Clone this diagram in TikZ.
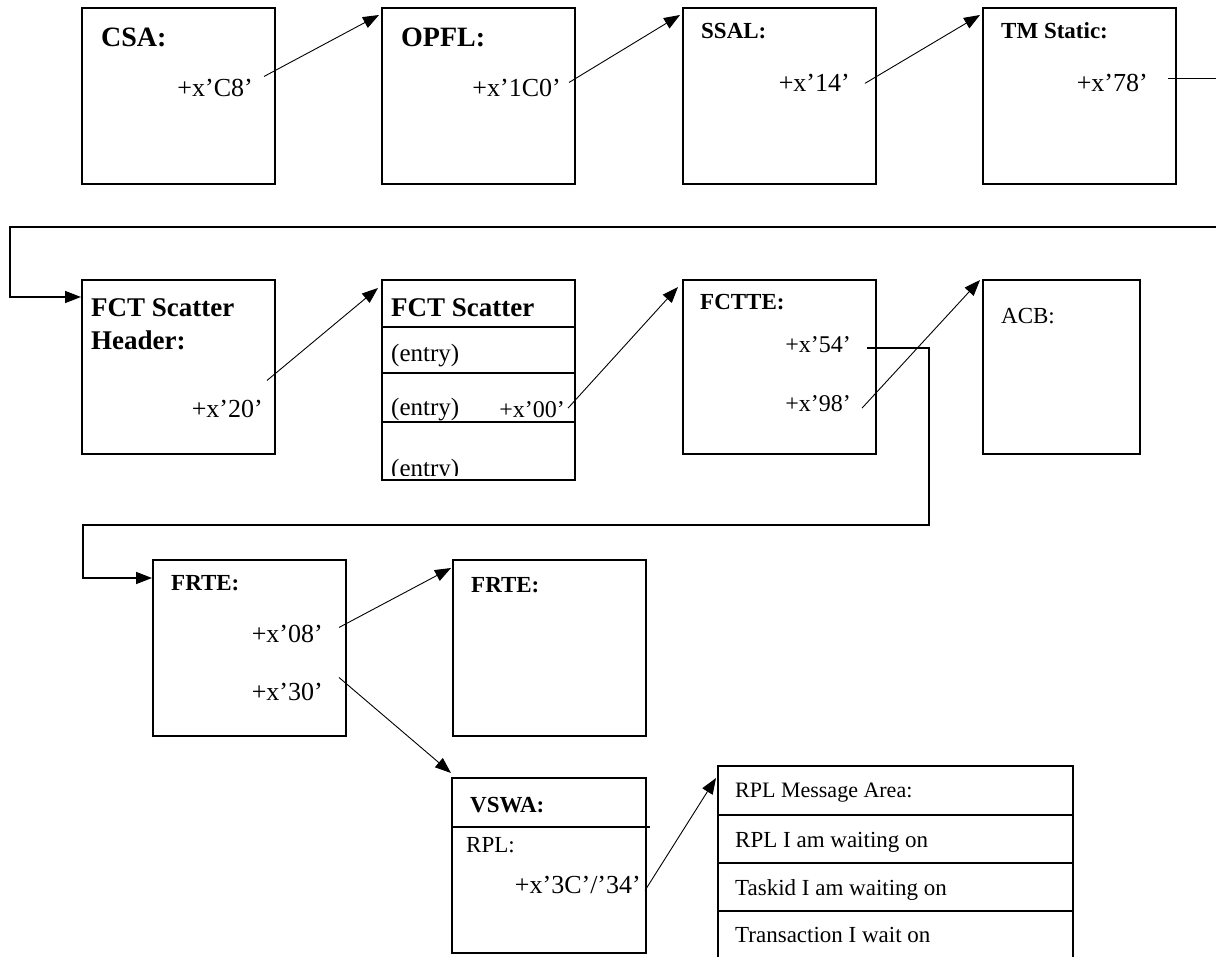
\documentclass[tikz,border=0pt]{standalone}
\usepackage{fontspec}
\setmainfont{Liberation Serif}
\usetikzlibrary{arrows.meta}

\tikzset{
  membox/.style={draw, line width=1.6pt, inner sep=0pt, anchor=north west,
    minimum width=193pt, minimum height=176pt},
  divline/.style={line width=1.6pt},
  lbl/.style={inner sep=0pt, anchor=base west, font=\fontsize{23}{27}\selectfont},
  hdr/.style={lbl, font=\fontsize{23}{27}\selectfont\bfseries},
  bighdr/.style={lbl, font=\fontsize{28}{32}\selectfont\bfseries},
  ofs/.style={inner sep=0pt, anchor=base east, font=\fontsize{26}{30}\selectfont},
  ptr/.style={->, line width=0.9pt},
  link/.style={->, line width=1.6pt},
}

\begin{document}
\begin{tikzpicture}[x=1pt,y=-1pt,>={Triangle[length=16pt,width=12pt]}]
\useasboundingbox (0,0) rectangle (1216,957);

% first row
\node[membox] (csa) at (81,7) {};
\node[membox] (opfl) at (381,7) {};
\node[membox] (ssal) at (682,7) {};
\node[membox] (tmstat) at (982,7) {};
\node[bighdr] (csat) at (101,47) {CSA:};
\node[bighdr] (opflt) at (401,47) {OPFL:};
\node[hdr] (ssalt) at (701,39) {SSAL:};
\node[hdr] (tmstatt) at (1001,39) {TM Static:};
\node[ofs] (csaoff) at (253,97) {+x’C8’};
\node[ofs] (opfloff) at (561,97) {+x’1C0’};
\node[ofs] (ssaloff) at (850,92) {+x’14’};
\node[ofs] (tmoff) at (1148,92) {+x’78’};

% second row
\node[membox, minimum height=174pt] (fcthdr) at (81,279) {};
\node[membox, minimum height=200pt] (scat) at (381,279) {};
\node[membox, minimum height=174pt] (fctte) at (682,279) {};
\node[membox, minimum width=157pt, minimum height=174pt] (acb) at (982,279) {};
\foreach \d in {48,94,143}
  \draw[divline] ([yshift=-\d pt]scat.north west) -- ([yshift=-\d pt]scat.north east);
\node[bighdr, font=\fontsize{27}{31}\selectfont\bfseries] (fcthdrt) at (91,317) {FCT Scatter};
\node[bighdr, font=\fontsize{27}{31}\selectfont\bfseries] (fcthdru) at (91,350) {Header:};
\node[ofs] (hdroff) at (263,418) {+x’20’};
\node[bighdr, font=\fontsize{27}{31}\selectfont\bfseries] (scatt) at (391,317) {FCT Scatter};
\node[lbl, font=\fontsize{25}{29}\selectfont] (entrya) at (391,362) {(entry)};
\node[lbl, font=\fontsize{25}{29}\selectfont] (entryb) at (391,416) {(entry)};
\node[ofs, font=\fontsize{24}{28}\selectfont] (scatoff) at (565,418) {+x’00’};
\begin{scope}
  \clip (scat.north west) rectangle ([yshift=5pt]scat.south east);
  \node[lbl, font=\fontsize{25}{29}\selectfont] (entryc) at (391,476) {(entry)};
\end{scope}
\node[hdr] (fcttet) at (700,310) {FCTTE:};
\node[ofs, font=\fontsize{24}{28}\selectfont] (fcttea) at (851,353) {+x’54’};
\node[ofs, font=\fontsize{24}{28}\selectfont] (fctteb) at (851,412) {+x’98’};
\node[lbl] (acbt) at (1001,324) {ACB:};

% third row
\node[membox] (frtea) at (152,559) {};
\node[membox] (frteb) at (452,559) {};
\node[membox, minimum width=194pt, minimum height=175pt] (vswa) at (451,777) {};
\node[membox, minimum width=355pt, minimum height=220pt] (rplmsg) at (717,765) {};
\draw[divline] ([yshift=-50pt]vswa.north west) -- ([yshift=-50pt,xshift=3pt]vswa.north east);
\foreach \d in {50,98,146}
  \draw[divline] ([yshift=-\d pt]rplmsg.north west) -- ([yshift=-\d pt]rplmsg.north east);
\node[hdr] (frteat) at (171,590) {FRTE:};
\node[hdr] (frtebt) at (471,592) {FRTE:};
\node[ofs] (frteoa) at (323,642) {+x’08’};
\node[ofs] (frteob) at (323,700) {+x’30’};
\node[hdr] (vswat) at (470,812) {VSWA:};
\node[lbl] (vswar) at (466,852) {RPL:};
\node[ofs] (vswaoff) at (641,893) {+x’3C’/’34’};
\node[lbl, font=\fontsize{22}{26}\selectfont] (rpla) at (735,797) {RPL Message Area:};
\node[lbl] (rplb) at (735,847) {RPL I am waiting on};
\node[lbl] (rplc) at (735,895) {Taskid I am waiting on};
\node[lbl] (rpld) at (735,942) {Transaction I wait on};

% connectors
\coordinate (wrapa) at (1240,227);
\coordinate (wrapb) at (10,227);
\coordinate (bendc) at (929,525);
\coordinate (bendd) at (83,525);
\draw[ptr] ([xshift=11pt,yshift=12pt]csaoff.east) -- ([xshift=-2pt,yshift=-8pt]opfl.north west);
\draw[ptr] ([xshift=8pt,yshift=6pt]opfloff.east) -- ([xshift=-2pt,yshift=-8pt]ssal.north west);
\draw[ptr] ([xshift=15pt]ssaloff.east) -- ([xshift=-2pt,yshift=-8pt]tmstat.north west);
\draw[link] ([xshift=20pt,yshift=5pt]tmoff.east) -| (wrapa) -- (wrapb) |- ([yshift=-18pt]fcthdr.north west);
\draw[ptr] ([xshift=4pt,yshift=29pt]hdroff.east) -- ([xshift=-3pt,yshift=-9pt]scat.north west);
\draw[ptr] ([xshift=3pt,yshift=2pt]scatoff.east) -- ([xshift=-4pt,yshift=-8pt]fctte.north west);
\draw[link] ([xshift=16pt,yshift=-3pt]fcttea.east) -| (bendc) -- (bendd) |- ([yshift=-19pt]frtea.north west);
\draw[ptr] ([xshift=11pt,yshift=-4pt]fctteb.east) -- ([xshift=-2pt,yshift=-1pt]acb.north west);
\draw[ptr] ([xshift=16pt,yshift=6pt]frteoa.east) -- ([xshift=-1pt,yshift=-9pt]frteb.north west);
\draw[ptr] ([xshift=16pt,yshift=14pt]frteob.east) -- ([yshift=4pt]vswa.north west);
\draw[ptr] ([xshift=4pt,yshift=-6pt]vswaoff.east) -- ([xshift=-1pt,yshift=-13pt]rplmsg.north west);
\end{tikzpicture}
\end{document}
